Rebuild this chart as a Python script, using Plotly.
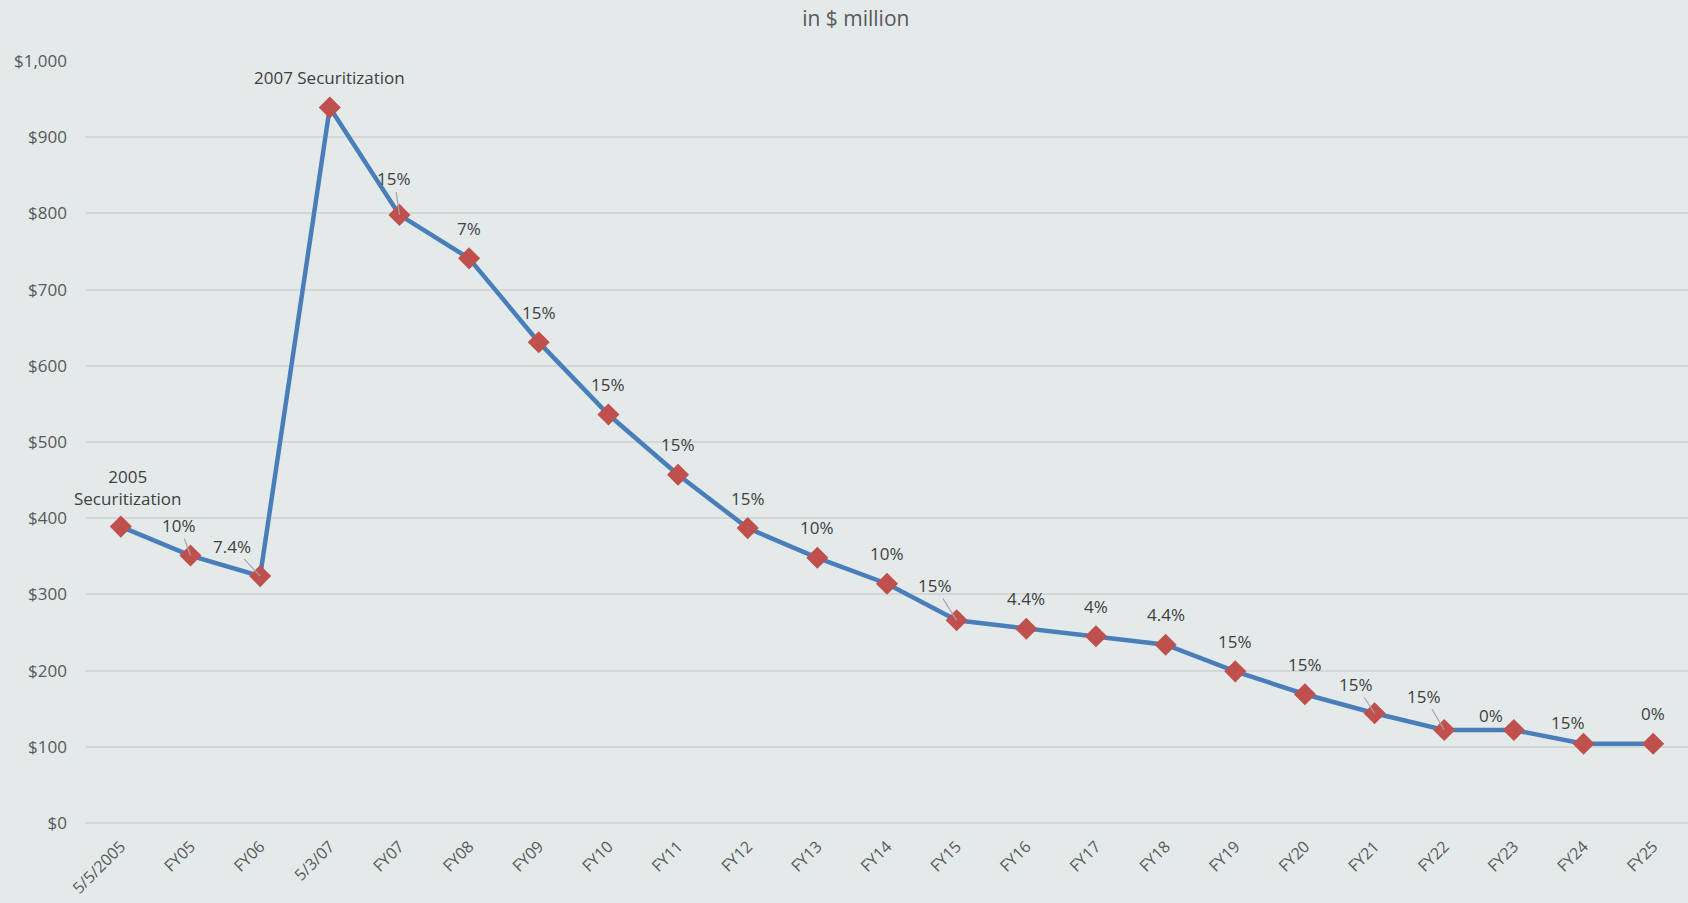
import plotly.graph_objects as go

categories = ["5/5/2005", "FY05", "FY06", "5/3/07", "FY07", "FY08", "FY09", "FY10", "FY11",
              "FY12", "FY13", "FY14", "FY15", "FY16", "FY17", "FY18", "FY19", "FY20", "FY21",
              "FY22", "FY23", "FY24", "FY25"]
values = [389, 351, 324, 939, 798, 741, 631, 536, 457, 387, 348, 314, 266, 255, 245, 234,
          199, 169, 144, 122, 122, 104, 104]
point_labels = ["2005<br>Securitization", "10%", "7.4%", "2007 Securitization", "15%", "7%",
                "15%", "15%", "15%", "15%", "10%", "10%", "15%", "4.4%", "4%", "4.4%", "15%",
                "15%", "15%", "15%", "0%", "15%", "0%"]
y_ticks = [0, 100, 200, 300, 400, 500, 600, 700, 800, 900, 1000]
y_tick_text = ["$0", "$100", "$200", "$300", "$400", "$500", "$600", "$700", "$800", "$900", "$1,000"]

# label offsets in pixels (dx, dy) and whether a leader line is drawn
label_offsets = {0: (7, -39), 1: (-11, -28), 2: (-28, -28), 4: (-5, -34), 12: (-22, -33),
                 18: (-19, -27), 19: (-20, -32), 20: (-23, -15), 21: (-16, -21)}
leader = {1, 2, 4, 12, 18, 19}

FONT = "Open Sans"
TXT = "#404040"

fig = go.Figure()
fig.add_trace(go.Scatter(
    x=categories, y=values, mode="lines+markers",
    line=dict(color="#4A7EBB", width=4.5),
    marker=dict(symbol="diamond", size=17, color="#C0504D"),
    hoverinfo="x+y",
))

annotations = []
for i, (c, v, t) in enumerate(zip(categories, values, point_labels)):
    dx, dy = label_offsets.get(i, (0, -30))
    if i in leader:
        annotations.append(dict(x=c, y=v, xref="x", yref="y", text=t, showarrow=True,
                                arrowhead=0, arrowwidth=1.2, arrowcolor="#A6A6A6",
                                ax=dx, ay=dy - 2, standoff=0,
                                font=dict(family=FONT, size=17, color=TXT)))
    else:
        annotations.append(dict(x=c, y=v, xref="x", yref="y", text=t, showarrow=False,
                                xshift=dx, yshift=-dy,
                                font=dict(family=FONT, size=17, color=TXT)))

fig.update_layout(
    width=1688, height=903,
    paper_bgcolor="#E4EAEA", plot_bgcolor="#E4EAEA",
    margin=dict(l=86, r=0, t=61, b=80),
    title=dict(text="in $ million", x=0.507, xanchor="center", y=0.979, yanchor="middle",
               font=dict(family=FONT, size=21, color="#595959")),
    showlegend=False,
    annotations=annotations,
    font=dict(family=FONT, color="#595959"),
)
fig.update_xaxes(type="category", range=[-0.5, len(categories) - 0.5], showgrid=False,
                 zeroline=False, showline=False, ticks="", tickangle=-45,
                 tickfont=dict(family=FONT, size=16, color="#595959"), automargin=False,
                 ticklabelstandoff=10)
fig.update_yaxes(range=[0, 1000], tickvals=y_ticks, ticktext=y_tick_text, showgrid=True,
                 gridcolor="#D4D7D8", gridwidth=1.5, zeroline=True, zerolinecolor="#D4D7D8",
                 zerolinewidth=1.5, showline=False, ticks="",
                 tickfont=dict(family=FONT, size=17, color="#595959"), automargin=False,
                 ticklabelstandoff=18)

fig.write_html("out.html")
